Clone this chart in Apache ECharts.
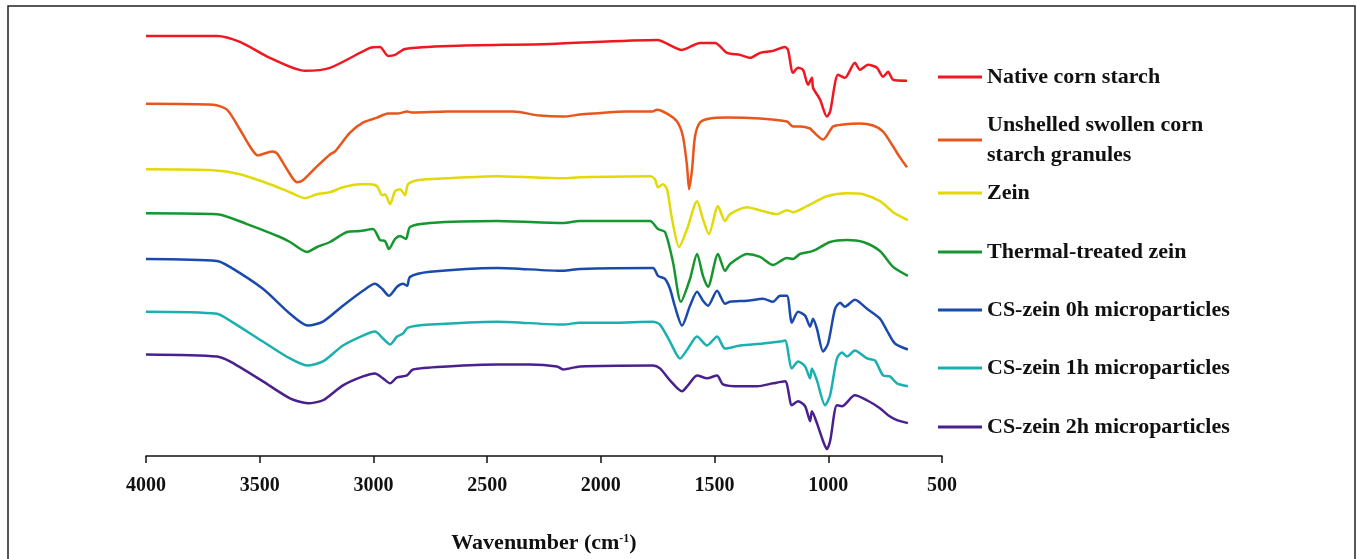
<!DOCTYPE html>
<html>
<head>
<meta charset="utf-8">
<title>FTIR spectra</title>
<script src="https://cdn.jsdelivr.net/npm/echarts@6/dist/echarts.min.js"></script>
<style>
  html, body { margin: 0; padding: 0; background: #fff; }
  #chart { width: 1357px; height: 559px; }
</style>
</head>
<body>
<div id="chart"></div>
<script>
// x tick labels (cm-1)
var xTicks = [4000, 3500, 3000, 2500, 2000, 1500, 1000, 500];

// series names, legend order
var names = [
  "Native corn starch",
  "Unshelled swollen corn starch granules",
  "Zein",
  "Thermal-treated zein",
  "CS-zein 0h microparticles",
  "CS-zein 1h microparticles",
  "CS-zein 2h microparticles"
];

// [wavenumber, offset transmittance (a.u.)]
var nativeStarch = [[4000,422],[3688,422],[3587,416],[3455,400],[3301,387],[3191,390],[3015,410],[2971,411],[2936,402],[2905,403],[2861,409],[2663,412],[2224,414],[1753,418],[1643,408],[1564,415],[1498,415],[1445,405],[1388,403],[1344,400],[1300,405],[1243,407],[1190,411],[1177,408],[1155,385],[1133,390],[1111,388],[1089,373],[1072,380],[1067,370],[1036,358],[1006,341],[992,346],[957,383],[927,380],[883,395],[861,388],[825,393],[786,390],[759,381],[737,386],[715,378],[654,377]];

var swollenStarch = [[4000,354],[3705,353],[3644,348],[3587,328],[3543,311],[3508,302],[3446,306],[3424,304],[3380,288],[3336,275],[3310,277],[3248,291],[3191,303],[3169,306],[3103,325],[3046,335],[2984,340],[2936,344],[2896,344],[2852,346],[2826,345],[2676,346],[2457,346],[2386,346],[2268,342],[2166,341],[2092,343],[2035,344],[1885,346],[1775,346],[1753,348],[1709,344],[1665,336],[1639,321],[1621,291],[1612,268],[1599,288],[1586,321],[1564,335],[1520,339],[1445,340],[1300,339],[1182,336],[1155,331],[1124,331],[1080,329],[1067,326],[1023,318],[979,331],[935,333],[861,334],[803,332],[759,326],[715,311],[685,300],[654,290]];

var zein = [[4000,288],[3705,287],[3587,283],[3455,273],[3367,265],[3301,259],[3248,263],[3191,265],[3134,270],[3059,273],[3015,273],[2984,271],[2962,262],[2949,263],[2927,253],[2905,266],[2883,268],[2861,262],[2848,273],[2808,277],[2676,279],[2457,281],[2166,279],[2092,280],[1784,281],[1762,278],[1749,270],[1727,273],[1709,268],[1687,238],[1656,210],[1621,228],[1577,256],[1551,238],[1525,223],[1485,251],[1454,236],[1432,243],[1357,250],[1287,246],[1225,243],[1182,247],[1155,245],[1094,251],[1006,261],[918,264],[847,263],[773,256],[715,245],[685,241],[650,237]];

var thermalZein = [[4000,244],[3688,243],[3556,233],[3411,220],[3367,215],[3292,205],[3248,210],[3191,215],[3116,225],[3059,226],[3002,228],[2971,217],[2949,216],[2932,208],[2905,218],[2883,221],[2857,218],[2839,230],[2751,234],[2457,236],[2166,234],[2092,236],[1784,236],[1749,228],[1718,225],[1683,195],[1648,155],[1608,178],[1577,203],[1551,181],[1529,170],[1485,203],[1454,186],[1432,193],[1357,203],[1300,200],[1243,192],[1182,199],[1155,198],[1124,203],[1067,206],[992,215],[918,217],[847,215],[773,206],[715,190],[650,181]];

var csZein0h = [[4000,198],[3688,196],[3631,190],[3486,168],[3367,143],[3288,131],[3222,135],[3134,151],[3046,166],[2993,173],[2962,168],[2932,161],[2896,170],[2870,173],[2852,171],[2839,180],[2751,185],[2457,189],[2166,186],[2092,188],[1771,189],[1749,181],[1718,178],[1696,168],[1674,150],[1643,131],[1608,151],[1577,165],[1551,156],[1529,151],[1489,166],[1454,153],[1432,155],[1357,156],[1287,158],[1243,155],[1212,161],[1182,161],[1160,134],[1133,145],[1102,141],[1080,130],[1067,138],[1050,128],[1023,105],[1001,113],[970,148],[948,154],[927,150],[883,157],[830,148],[773,138],[742,126],[707,113],[650,107]];

var csZein1h = [[4000,145],[3688,143],[3631,136],[3486,115],[3367,98],[3292,91],[3222,95],[3134,111],[3046,121],[2993,125],[2958,118],[2927,112],[2896,120],[2870,123],[2848,129],[2751,132],[2457,135],[2166,132],[2092,134],[1947,134],[1771,135],[1740,132],[1696,115],[1652,98],[1617,108],[1577,120],[1533,111],[1489,120],[1454,108],[1388,111],[1287,113],[1212,115],[1190,116],[1160,88],[1133,95],[1102,90],[1080,78],[1072,88],[1050,76],[1014,51],[992,61],[962,98],[940,104],[918,100],[883,106],[830,98],[795,96],[759,81],[729,80],[698,73],[650,70]];

var csZein2h = [[4000,102],[3688,100],[3631,95],[3486,75],[3367,58],[3288,53],[3222,56],[3134,71],[3046,80],[2993,83],[2958,78],[2927,73],[2896,79],[2852,81],[2826,87],[2676,90],[2457,92],[2312,92],[2193,90],[2166,87],[2092,90],[1771,91],[1740,88],[1696,76],[1643,65],[1617,71],[1577,81],[1533,78],[1489,81],[1463,72],[1388,70],[1313,70],[1243,73],[1190,75],[1160,51],[1133,55],[1102,50],[1080,35],[1072,45],[1050,33],[1023,15],[1006,7],[992,15],[962,51],[940,50],[883,61],[830,56],[773,48],[737,41],[698,36],[650,33]];

var seriesData = [nativeStarch, swollenStarch, zein, thermalZein, csZein0h, csZein1h, csZein2h];
var colors = ["#f01820", "#e8561c", "#e2da08", "#16962f", "#1a4aab", "#1ab0b0", "#4a208e"];
// legend item centre (px from top)
var legendCenters = [77, 140, 193, 252, 310, 368, 427];

var FONT = "'Liberation Serif', 'Times New Roman', serif";

var chart = echarts.init(document.getElementById("chart"));

var legends = [];
var series = [];
for (var i = 0; i < names.length; i++) {
  var lines = names[i] === "Unshelled swollen corn starch granules" ? 2 : 1;
  legends.push({
    data: [names[i]],
    orient: "vertical",
    left: 938,
    top: legendCenters[i] - 15 * lines,
    padding: 0,
    itemWidth: 44,
    itemHeight: 3,
    itemGap: 0,
    icon: "rect",
    selectedMode: false,
    formatter: function (name) {
      if (name === "Unshelled swollen corn starch granules") return "Unshelled swollen corn\nstarch granules";
      return name;
    },
    textStyle: {
      fontFamily: FONT,
      fontWeight: "bold",
      fontSize: 22,
      lineHeight: 30,
      color: "#111"
    }
  });
  series.push({
    name: names[i],
    type: "line",
    data: seriesData[i],
    showSymbol: false,
    smooth: 0.25,
    color: colors[i],
    lineStyle: { width: 2.5, color: colors[i] }
  });
}

var option = {
  animation: false,
  backgroundColor: "#fff",
  graphic: [
    {
      type: "rect",
      shape: { x: 8, y: 6, width: 1347, height: 570 },
      style: { fill: "none", stroke: "#222", lineWidth: 1.5 },
      z: 100
    }
  ],
  legend: legends,
  grid: { left: 146, width: 796, top: 30, height: 428, containLabel: false },
  xAxis: {
    type: "value",
    inverse: true,
    min: xTicks[xTicks.length - 1],
    max: xTicks[0],
    interval: 500,
    name: "Wavenumber (cm{sup|-1})",
    nameLocation: "middle",
    nameGap: 76,
    nameTextStyle: {
      fontFamily: FONT,
      fontWeight: "bold",
      fontSize: 22,
      color: "#111",
      rich: {
        sup: { fontFamily: FONT, fontWeight: "bold", fontSize: 12, color: "#111", padding: [0, 0, 9, 0] }
      }
    },
    axisLine: { lineStyle: { color: "#111", width: 1.5 } },
    axisTick: { show: true, length: 7, lineStyle: { color: "#111", width: 1.5 } },
    axisLabel: {
      margin: 20,
      fontFamily: FONT,
      fontWeight: "bold",
      fontSize: 20,
      color: "#111",
      formatter: function (v) { return String(v); }
    },
    splitLine: { show: false }
  },
  yAxis: {
    type: "value",
    min: 0,
    max: 428,
    show: false
  },
  series: series
};

chart.setOption(option);
</script>
</body>
</html>
